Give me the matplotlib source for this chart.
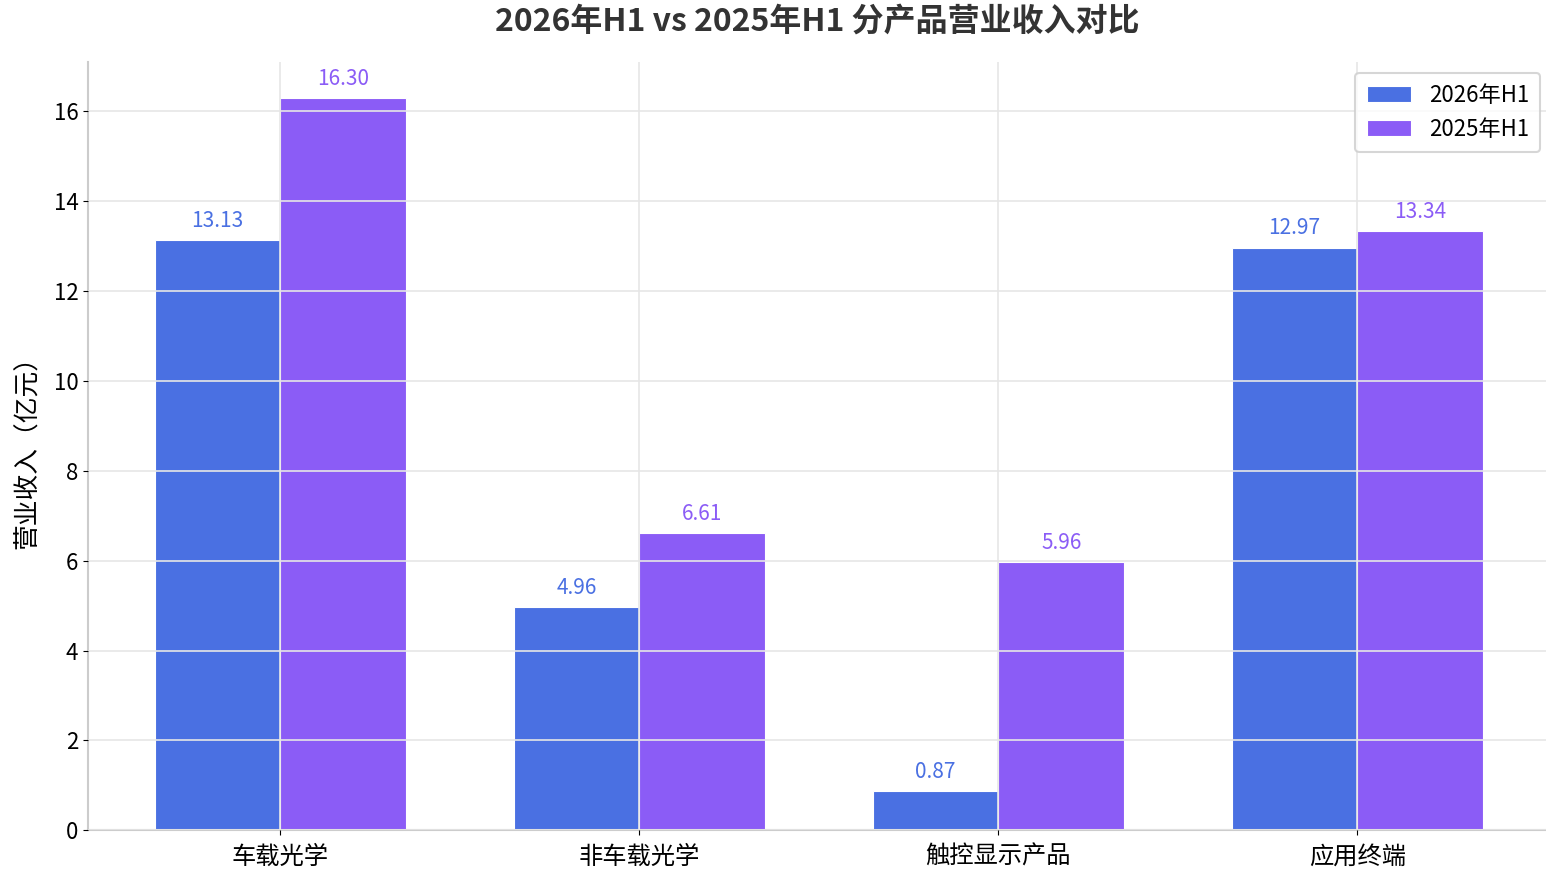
import numpy as np
import matplotlib
matplotlib.use("Agg")
import matplotlib.pyplot as plt

plt.rcParams['font.family'] = ['Noto Sans CJK SC', 'DejaVu Sans']
plt.rcParams['axes.unicode_minus'] = False

categories = ['车载光学', '非车载光学', '触控显示产品', '应用终端']
rev_2026 = [13.13, 4.96, 0.87, 12.97]
rev_2025 = [16.30, 6.61, 5.96, 13.34]
series_names = ['2026年H1', '2025年H1']
colors = ['#4A70E2', '#8B5CF6']

fig, ax = plt.subplots(figsize=(15.46, 8.73), dpi=100)
fig.subplots_adjust(left=0.057, right=1.0, top=0.929, bottom=0.049)

x = np.arange(len(categories))
w = 0.35
b1 = ax.bar(x - w / 2, rev_2026, w, color=colors[0], edgecolor='white', linewidth=0.8, label=series_names[0])
b2 = ax.bar(x + w / 2, rev_2025, w, color=colors[1], edgecolor='white', linewidth=0.8, label=series_names[1])

for bars, c in ((b1, colors[0]), (b2, colors[1])):
    for r in bars:
        h = r.get_height()
        ax.annotate(f'{h:.2f}', (r.get_x() + r.get_width() / 2, h),
                    xytext=(0, 6), textcoords='offset points',
                    ha='center', va='bottom', fontsize=15, color=c)

ax.set_xticks(x)
ax.set_xticklabels(categories, fontsize=17.5)
ax.tick_params(axis='x', pad=6)
ax.tick_params(axis='y', labelsize=16)
ax.set_ylabel('营业收入（亿元）', fontsize=18.5, labelpad=10)
ax.set_title('2026年H1 vs 2025年H1 分产品营业收入对比', fontsize=23, fontweight='bold', color='#333333', y=1.03)
ax.set_xlim(-0.535, 3.525)
ax.set_ylim(0, 17.1)

ax.set_axisbelow(False)
ax.grid(True, color='#e6e6e6', linewidth=1.2)
for s in ('top', 'right'):
    ax.spines[s].set_visible(False)
for s in ('left', 'bottom'):
    ax.spines[s].set_color('#cccccc')
    ax.spines[s].set_linewidth(1.5)

leg = ax.legend(loc='upper right', fontsize=16, frameon=True, fancybox=True, borderpad=0.5,
                bbox_to_anchor=(0.996, 0.986), borderaxespad=0)
leg.get_frame().set_edgecolor('#cccccc')
leg.get_frame().set_linewidth(1.5)

fig.savefig('out.png', dpi=100)
